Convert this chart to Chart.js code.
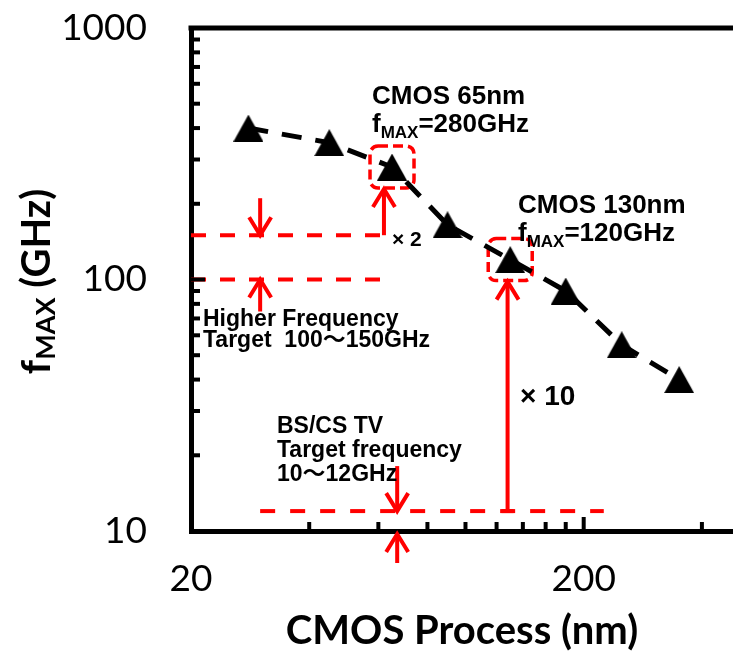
<!DOCTYPE html>
<html>
<head>
<meta charset="utf-8">
<title>fMAX vs CMOS process</title>
<script src="https://cdn.jsdelivr.net/npm/chart.js@4.4.1/dist/chart.umd.min.js"></script>
<style>
  html, body { margin: 0; padding: 0; background: #fff; overflow: hidden; }
  #wrap { width: 733px; height: 662px; }
</style>
</head>
<body>
<div id="wrap"><canvas id="fmaxChart" width="733" height="662"></canvas></div>
<script>
// CMOS node (nm) and its fMAX (GHz)
var processNm = [28, 45, 65, 90, 130, 180, 250, 350];
var fmaxGHz   = [400, 350, 280, 165, 120, 90, 55, 40];

// axis ticks (log axes, Excel style minor ticks)
var xTickValues = [20, 40, 60, 80, 100, 120, 140, 160, 180, 200, 400];
var xTickLabels = [20, 200];
var yTickValues = [10, 20, 30, 40, 50, 60, 70, 80, 90,
                   100, 200, 300, 400, 500, 600, 700, 800, 900, 1000];
var yTickLabels = [10, 100, 1000];

// target bands (GHz) and the nodes that get a box
var higherTarget = [100, 150];
var tvTarget = [10, 12];
var boxedNodes = [65, 130];

var RED = '#ff0000';
var NOTE_FONT = "'Liberation Sans', 'Noto Sans CJK JP', sans-serif";

// solid black triangle marker, centred on its bounding box
function triangleMarker(w, h) {
	var c = document.createElement('canvas');
	c.width = w; c.height = h;
	var g = c.getContext('2d');
	g.fillStyle = '#000';
	g.beginPath();
	g.moveTo(w / 2, 0);
	g.lineTo(w, h);
	g.lineTo(0, h);
	g.closePath();
	g.fill();
	return c;
}

function line(ctx, x1, y1, x2, y2, dash) {
	ctx.setLineDash(dash || []);
	ctx.beginPath();
	ctx.moveTo(x1, y1);
	ctx.lineTo(x2, y2);
	ctx.stroke();
	ctx.setLineDash([]);
}

// vertical arrow, tip at (x, yTip)
function arrow(ctx, x, yTail, yTip) {
	var dir = yTip < yTail ? 1 : -1;
	line(ctx, x, yTail, x, yTip + dir * 2);
	ctx.beginPath();
	ctx.moveTo(x - 11, yTip + dir * 18);
	ctx.lineTo(x, yTip);
	ctx.lineTo(x + 11, yTip + dir * 18);
	ctx.stroke();
}

function roundBox(ctx, cx, cy, w, h, r) {
	var x = cx - w / 2, y = cy - h / 2;
	ctx.setLineDash([10, 5]);
	ctx.beginPath();
	ctx.moveTo(x + r, y);
	ctx.arcTo(x + w, y, x + w, y + h, r);
	ctx.arcTo(x + w, y + h, x, y + h, r);
	ctx.arcTo(x, y + h, x, y, r);
	ctx.arcTo(x, y, x + w, y, r);
	ctx.closePath();
	ctx.stroke();
	ctx.setLineDash([]);
}

// text with an "MAX" subscript after the leading f
function fmaxText(ctx, x, y, size, rest) {
	ctx.font = 'bold ' + size + 'px ' + NOTE_FONT;
	ctx.fillText('f', x, y);
	var w = ctx.measureText('f').width;
	ctx.font = 'bold ' + Math.round(size * 0.65) + 'px ' + NOTE_FONT;
	ctx.fillText('MAX', x + w, y + 6);
	w += ctx.measureText('MAX').width;
	ctx.font = 'bold ' + size + 'px ' + NOTE_FONT;
	ctx.fillText(rest, x + w, y);
}

function boxBottom(chart, node) {
	var i = processNm.indexOf(node);
	return chart.scales.y.getPixelForValue(fmaxGHz[i]) + 21;
}

// no extra room for half tick labels, the frame sits where the layout puts it
function noLabelPadding(s) {
	s.paddingTop = 0;
	s.paddingBottom = 0;
	s.paddingLeft = 0;
	s.paddingRight = 0;
}

var redMarks = {
	id: 'redMarks',
	beforeDatasetsDraw: function(chart) {
		var ctx = chart.ctx, xs = chart.scales.x, ys = chart.scales.y;
		var X = function(v) { return xs.getPixelForValue(v); };
		var Y = function(v) { return ys.getPixelForValue(v); };

		ctx.save();
		ctx.strokeStyle = RED;
		ctx.lineWidth = 4;
		ctx.lineCap = 'butt';
		ctx.lineJoin = 'miter';

		// 100-150 GHz band
		line(ctx, X(20), Y(higherTarget[1]), X(62), Y(higherTarget[1]), [15, 14]);
		line(ctx, X(20), Y(higherTarget[0]), X(63), Y(higherTarget[0]), [15, 14]);
		arrow(ctx, X(30), Y(higherTarget[1]) - 37, Y(higherTarget[1]));
		arrow(ctx, X(30), Y(higherTarget[0]) + 32, Y(higherTarget[0]));

		// 10-12 GHz band
		line(ctx, X(30), Y(tvTarget[1]), X(225), Y(tvTarget[1]), [15, 15]);
		arrow(ctx, X(67), Y(tvTarget[1]) - 45, Y(tvTarget[1]));
		arrow(ctx, X(67), Y(tvTarget[0]) + 32, Y(tvTarget[0]) + 3);

		// boxes round the 65nm and 130nm points
		ctx.lineWidth = 3.5;
		boxedNodes.forEach(function(n) {
			var i = processNm.indexOf(n);
			roundBox(ctx, X(n), Y(fmaxGHz[i]), 44, 42, 8);
		});

		// x2 and x10 arrows
		ctx.lineWidth = 4;
		arrow(ctx, X(62), Y(higherTarget[1]), boxBottom(chart, 65) + 1);
		arrow(ctx, X(128), Y(tvTarget[1]), boxBottom(chart, 130) + 1);
		line(ctx, X(128) - 6, Y(tvTarget[1]), X(128) + 6, Y(tvTarget[1]));
		ctx.restore();
	},
	afterDraw: function(chart) {
		var ctx = chart.ctx, xs = chart.scales.x, ys = chart.scales.y;
		var area = chart.chartArea;

		ctx.save();
		// top edge of the frame
		ctx.strokeStyle = '#000';
		ctx.lineWidth = 5;
		line(ctx, area.left - 2.5, area.top, area.right, area.top);

		// inward tick marks
		ctx.lineWidth = 4;
		yTickValues.forEach(function(v) {
			if (v === 10 || v === 1000) return;
			var y = ys.getPixelForValue(v);
			var len = yTickLabels.indexOf(v) >= 0 ? 14 : 9;
			line(ctx, area.left, y, area.left + len, y);
		});
		xTickValues.forEach(function(v) {
			if (v === 20) return;
			var x = xs.getPixelForValue(v);
			var len = xTickLabels.indexOf(v) >= 0 ? 14 : 9;
			line(ctx, x, area.bottom, x, area.bottom - len);
		});

		// notes
		ctx.fillStyle = '#000';
		ctx.textAlign = 'left';
		ctx.textBaseline = 'alphabetic';
		ctx.font = 'bold 26px ' + NOTE_FONT;
		ctx.fillText('CMOS 65nm', 372, 104);
		fmaxText(ctx, 372, 132, 26, '=280GHz');
		ctx.font = 'bold 26px ' + NOTE_FONT;
		ctx.fillText('CMOS 130nm', 518, 213);
		fmaxText(ctx, 518, 241, 26, '=120GHz');

		ctx.font = 'bold 21px ' + NOTE_FONT;
		ctx.fillText('\u00d7 2', 392, 246);
		ctx.font = 'bold 28px ' + NOTE_FONT;
		ctx.fillText('\u00d7 10', 520, 405);

		ctx.font = 'bold 23px ' + NOTE_FONT;
		ctx.fillText('Higher Frequency', 203, 326);
		ctx.fillText('Target  100\uff5e150GHz', 203, 347);
		ctx.fillText('BS/CS TV', 277, 433);
		ctx.fillText('Target frequency', 277, 457);
		ctx.fillText('10\uff5e12GHz', 277, 481);

		// axis titles
		ctx.font = 'bold 40px Lato';
		ctx.textAlign = 'center';
		ctx.textBaseline = 'middle';
		ctx.fillText('CMOS Process (nm)', (area.left + area.right) / 2, 631);

		ctx.translate(50, (area.top + area.bottom) / 2 + 2);
		ctx.rotate(-Math.PI / 2);
		ctx.textAlign = 'left';
		ctx.textBaseline = 'alphabetic';
		ctx.font = 'bold 40px Lato';
		var wf = ctx.measureText('f').width;
		var wr = ctx.measureText(' (GHz)').width;
		ctx.font = 'bold 27px Lato';
		var ws = ctx.measureText('MAX').width;
		var x0 = -(wf + ws + wr) / 2;
		ctx.font = 'bold 40px Lato';
		ctx.fillText('f', x0, 0);
		ctx.font = 'bold 27px Lato';
		ctx.fillText('MAX', x0 + wf, 5);
		ctx.font = 'bold 40px Lato';
		ctx.fillText(' (GHz)', x0 + wf + ws, 0);
		ctx.restore();
	}
};

var points = processNm.map(function(p, i) {
	return { x: p, y: fmaxGHz[i] };
});

var tickFont = { family: 'Lato', size: 37 };

new Chart(document.getElementById('fmaxChart'), {
	type: 'line',
	data: {
		datasets: [{
			label: 'fMAX',
			data: points,
			borderColor: '#000',
			borderWidth: 5,
			borderDash: [20, 14],
			borderCapStyle: 'butt',
			tension: 0,
			fill: false,
			pointStyle: triangleMarker(30, 27),
			pointRadius: 14,
			pointHoverRadius: 14
		}]
	},
	options: {
		responsive: false,
		animation: false,
		devicePixelRatio: 1,
		layout: { autoPadding: false, padding: { top: 28, left: 0, right: 0, bottom: 0 } },
		plugins: {
			legend: { display: false },
			tooltip: { enabled: false }
		},
		scales: {
			x: {
				type: 'logarithmic',
				min: 20,
				max: 480,
				grid: { display: false, drawTicks: false },
				border: { display: true, color: '#000', width: 5 },
				ticks: {
					autoSkip: false,
					maxRotation: 0,
					padding: 26,
					color: '#000',
					font: tickFont,
					callback: function(v) { return xTickLabels.indexOf(v) >= 0 ? String(v) : ''; }
				},
				afterBuildTicks: function(s) {
					s.ticks = xTickValues.map(function(v) { return { value: v }; });
				},
				afterFit: function(s) { s.height = 131; noLabelPadding(s); }
			},
			y: {
				type: 'logarithmic',
				min: 10,
				max: 1000,
				grid: { display: false, drawTicks: false },
				border: { display: true, color: '#000', width: 5 },
				ticks: {
					autoSkip: false,
					padding: 44,
					color: '#000',
					font: tickFont,
					callback: function(v) { return yTickLabels.indexOf(v) >= 0 ? String(v) : ''; }
				},
				afterBuildTicks: function(s) {
					s.ticks = yTickValues.map(function(v) { return { value: v }; });
				},
				afterFit: function(s) { s.width = 191; noLabelPadding(s); }
			}
		}
	},
	plugins: [redMarks]
});
</script>
</body>
</html>
